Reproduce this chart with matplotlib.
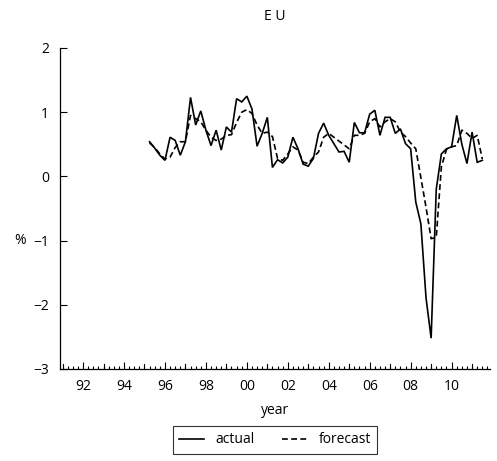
import matplotlib
matplotlib.use("Agg")
import matplotlib.pyplot as plt
from matplotlib.ticker import FixedLocator, FixedFormatter

plt.rcParams['font.family'] = ['Open Sans', 'DejaVu Sans']

# quarterly periods, first observation 1995Q2
start_year = 1995
start_q = 2

actual = [0.54, 0.44, 0.33,
          0.25, 0.61, 0.56, 0.33,
          0.54, 1.23, 0.80, 1.02,
          0.72, 0.48, 0.72, 0.41,
          0.77, 0.69, 1.21, 1.16,
          1.25, 1.05, 0.47, 0.67,
          0.92, 0.14, 0.26, 0.21,
          0.30, 0.61, 0.43, 0.19,
          0.16, 0.28, 0.67, 0.83,
          0.64, 0.51, 0.38, 0.39,
          0.22, 0.84, 0.68, 0.68,
          0.97, 1.03, 0.64, 0.92,
          0.92, 0.67, 0.74, 0.51,
          0.43, -0.40, -0.74, -1.89,
          -2.52, -0.20, 0.35, 0.43,
          0.46, 0.95, 0.50, 0.20,
          0.69, 0.22, 0.25]

forecast = [0.52, 0.45, 0.35,
            0.27, 0.30, 0.45, 0.54,
            0.54, 0.95, 0.90, 0.85,
            0.72, 0.61, 0.56, 0.58,
            0.64, 0.65, 0.84, 1.00,
            1.04, 0.98, 0.80, 0.67,
            0.69, 0.62, 0.28, 0.25,
            0.35, 0.46, 0.41, 0.22,
            0.20, 0.30, 0.38, 0.61,
            0.67, 0.61, 0.55, 0.49,
            0.43, 0.64, 0.64, 0.67,
            0.85, 0.90, 0.77, 0.85,
            0.90, 0.85, 0.69, 0.62,
            0.52, 0.43, -0.02, -0.48,
            -0.97, -0.95, 0.15, 0.42,
            0.46, 0.48, 0.72, 0.67,
            0.59, 0.64, 0.27]

year_labels = ['92', '94', '96', '98', '00', '02', '04', '06', '08', '10']
label_years = [1992, 1994, 1996, 1998, 2000, 2002, 2004, 2006, 2008, 2010]
y_ticks = [-3, -2, -1, 0, 1, 2]

t = [start_year + (start_q - 1 + i) / 4.0 for i in range(len(actual))]

fig = plt.figure(figsize=(4.97, 4.61), dpi=100)
ax = fig.add_axes([60/497, 1 - 369/461, 430/497, (369 - 48)/461])

ax.plot(t, actual, color='black', lw=1.2, solid_joinstyle='miter', label='actual')
ax.plot(t, forecast, color='black', lw=1.2, linestyle=(0, (3.5, 2)), label='forecast')

ax.set_xlim(1990.875, 2011.875)
ax.set_ylim(-3, 2)

ax.spines['top'].set_visible(False)
ax.spines['right'].set_visible(False)
for s in ('left', 'bottom'):
    ax.spines[s].set_linewidth(0.9)

ax.xaxis.set_major_locator(FixedLocator(label_years))
ax.xaxis.set_major_formatter(FixedFormatter(year_labels))
minor = [1991 + i / 4.0 for i in range(84)]
ax.xaxis.set_minor_locator(FixedLocator(minor))
ax.tick_params(axis='x', which='major', direction='in', length=5, width=0.8, pad=7, labelsize=10)
ax.tick_params(axis='x', which='minor', direction='in', length=2.5, width=0.8)
ax.set_yticks(y_ticks)
ax.set_yticklabels(['\u22123', '\u22122', '\u22121', '0', '1', '2'])
ax.tick_params(axis='y', direction='in', length=5, width=0.8, pad=8, labelsize=10)

# year-start ticks (unlabeled odd years) as mid-length
for yr in range(1991, 2012):
    if yr not in label_years:
        ax.plot([yr, yr], [-3, -3 + 4.5/64], color='black', lw=0.8, clip_on=False)

ax.set_xlabel('year', fontsize=10, labelpad=7)
fig.text(14/497, 1 - 240/461, '%', fontsize=10, ha='left', va='center')
fig.text(275/497, 1 - 16/461, 'E U', fontsize=10, ha='center', va='center')

leg = ax.legend(loc='upper center', bbox_to_anchor=(0.5, -0.178), ncol=2,
                frameon=True, fancybox=False, edgecolor='black', fontsize=10,
                handlelength=1.8, handletextpad=0.8, columnspacing=2.0,
                borderpad=0.45, borderaxespad=0.0)
leg.get_frame().set_linewidth(0.8)

fig.savefig('out.png', dpi=100)
